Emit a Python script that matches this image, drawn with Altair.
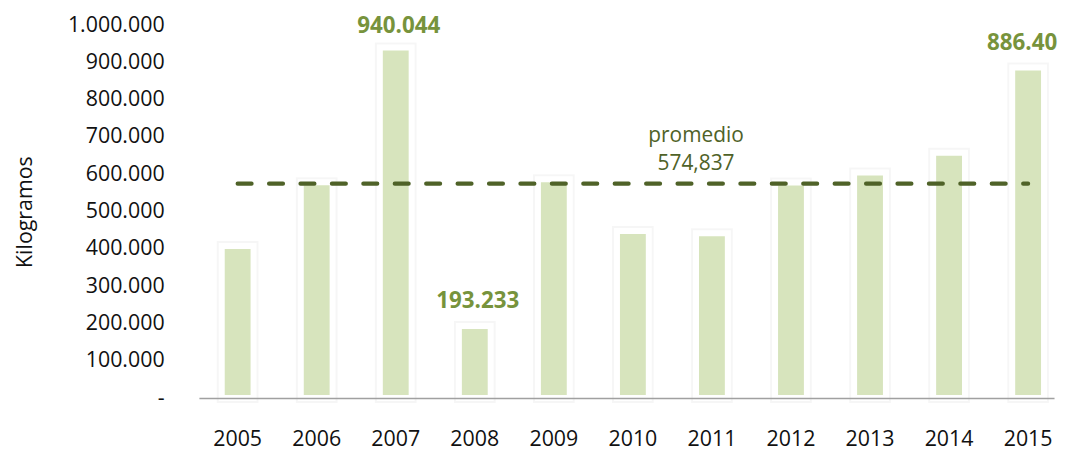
import altair as alt
import pandas as pd

years = ["2005", "2006", "2007", "2008", "2009", "2010", "2011", "2012", "2013", "2014", "2015"]
values = [408000, 578700, 940044, 193233, 587000, 448000, 442000, 578000, 605000, 658000, 886404]
labels = ["", "", "940.044", "193.233", "", "", "", "", "", "", "886.40"]
y_ticks = [0, 100000, 200000, 300000, 400000, 500000, 600000, 700000, 800000, 900000, 1000000]
promedio = 574837
promedio_text = ["promedio", "574,837"]

df = pd.DataFrame({"year": years, "value": values, "label": labels})
avg_df = pd.DataFrame({"year": [years[0]], "end": [years[-1]], "value": [promedio]})
ann_df = pd.DataFrame({"year": ["2011"], "value": [promedio]})

FONT = "Open Sans"
NBSP = "\u00a0"

x_scale = alt.Scale(paddingInner=0.5, paddingOuter=0.159, align=0.755)
x_axis = alt.Axis(
    labelAngle=0, labelFont=FONT, labelFontSize=21.5, labelColor="#111111",
    labelBaseline="alphabetic", labelPadding=48, ticks=False, tickSize=0,
    domainColor="#A0A0A0", domainWidth=1.6, zindex=1, labelOverlap=False,
)
x = alt.X("year:O", title=None, scale=x_scale, axis=x_axis)

y_scale = alt.Scale(domain=[0, 1000000], nice=False, zero=True)
y_axis = alt.Axis(
    values=y_ticks,
    labelExpr="datum.value == 0 ? '-" + NBSP + NBSP + "' : replace(format(datum.value, ','), regexp(',', 'g'), '.')",
    labelFont=FONT, labelFontSize=21.5, labelColor="#111111", labelPadding=35,
    labelOverlap=False, labelFlush=False,
    ticks=False, tickSize=0, domain=False, grid=False,
    titleFont=FONT, titleFontSize=21.5, titleFontWeight="normal", titleColor="#111111",
    titleAngle=-90, titleAlign="center", titleBaseline="middle", titleX=-174.5, titleY=187.5,
)
y = alt.Y("value:Q", title="Kilogramos", scale=y_scale, axis=y_axis)

base = alt.Chart(df)

shadow = base.mark_bar(size=32, fill="white", stroke="#000000", strokeOpacity=0.035, strokeWidth=10).encode(x=x, y=y)
bars = base.mark_bar(size=32, fill="#D7E4BD", stroke="white", strokeWidth=6).encode(x=x, y=y)

avg_rule = alt.Chart(avg_df).mark_rule(
    color="#4F6228", strokeWidth=4.2, strokeDash=[14, 17.6], strokeCap="round"
).encode(x=x, x2="end:O", y=y)


def value_label(year, dx, dy):
    return base.transform_filter(f"datum.year == '{year}'").mark_text(
        font=FONT, fontSize=22.5, fontWeight="bold", color="#77933C",
        baseline="alphabetic", dy=dy, dx=dx,
    ).encode(x=x, y=y, text="label:N")


lbl_2007 = value_label("2007", 3, -15)
lbl_2008 = value_label("2008", 3, -18)
lbl_2015 = value_label("2015", -6, -18)

ann1 = alt.Chart(ann_df).mark_text(
    font=FONT, fontSize=21, color="#4F6228", baseline="alphabetic", dx=-16, dy=-42.4, text=promedio_text[0]
).encode(x=x, y=y)
ann2 = alt.Chart(ann_df).mark_text(
    font=FONT, fontSize=21, color="#4F6228", baseline="alphabetic", dx=-16, dy=-13.4, text=promedio_text[1]
).encode(x=x, y=y)

chart = alt.layer(shadow, bars, avg_rule, lbl_2007, lbl_2008, lbl_2015, ann1, ann2).properties(
    width=860, height=375,
    background="white",
    autosize=alt.AutoSizeParams(type="none"),
    padding={"left": 192, "top": 16, "right": 6, "bottom": 55},
).configure_view(stroke=None, strokeWidth=0).configure_axisY(labelOverlap=False)

chart.save("out.html", embed_options={"renderer": "svg", "actions": False})
